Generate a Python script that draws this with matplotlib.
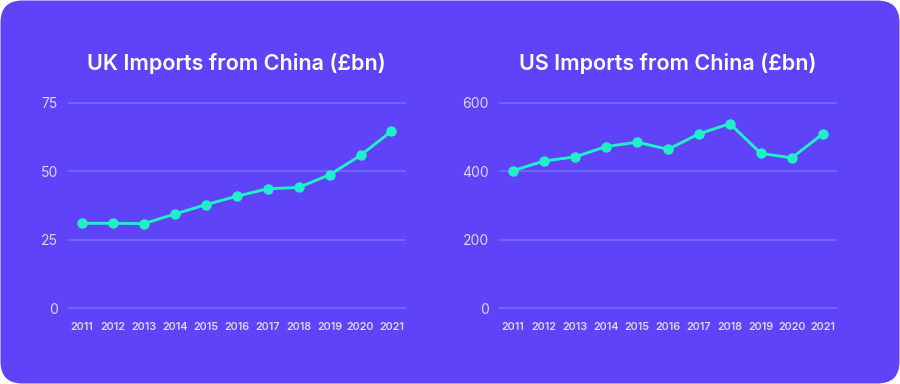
import matplotlib
matplotlib.use('Agg')
import matplotlib.pyplot as plt
from matplotlib.patches import FancyBboxPatch

years = [2011, 2012, 2013, 2014, 2015, 2016, 2017, 2018, 2019, 2020, 2021]
uk_imports = [31.0, 31.0, 30.9, 34.4, 37.8, 40.9, 43.6, 44.1, 48.7, 55.8, 64.6]
us_imports = [402, 430, 442, 472, 485, 464, 509, 539, 452, 439, 509]
uk_ticks = [0, 25, 50, 75]
us_ticks = [0, 200, 400, 600]

BG = '#5E43F8'
GRID = '#6F6CFB'
LINE = '#1FF0C8'
TICK = '#DCD6FF'

plt.rcParams['font.family'] = ['Inter', 'DejaVu Sans']

fig = plt.figure(figsize=(9, 3.84), dpi=100)
fig.patch.set_facecolor('white')

# rounded card behind both charts
bg = fig.add_axes([0, 0, 1, 1])
bg.set_xlim(0, 900)
bg.set_ylim(0, 384)
bg.axis('off')
bg.add_patch(FancyBboxPatch((0.5, 0.5), 899, 383, boxstyle='round,pad=0,rounding_size=22',
                            facecolor=BG, edgecolor='none'))


def draw(rect, values, ticks, title, title_x):
    ax = fig.add_axes(rect)
    ax.set_facecolor('none')
    x = list(range(len(years)))
    span = ticks[-1]
    ax.set_ylim(-span * 0.007, span * 1.007)
    ax.set_xlim(-0.47, len(years) - 1 + 0.47)
    ax.set_yticks(ticks)
    ax.set_xticks(x)
    ax.set_xticklabels([str(y) for y in years])
    for t in ticks:
        ax.axhline(t, color=GRID, linewidth=1.3, zorder=1)
    ax.plot(x, values, color=LINE, linewidth=2.1, marker='o', markersize=6.5,
            zorder=3, clip_on=False)
    for s in ax.spines.values():
        s.set_visible(False)
    ax.tick_params(axis='y', length=0, pad=7, labelsize=10, labelcolor=TICK)
    ax.tick_params(axis='x', length=0, pad=8.5, labelsize=7.8, labelcolor=TICK)
    for lab in ax.get_xticklabels():
        lab.set_fontweight('semibold')
    fig.text(title_x / 900, 1 - 64 / 384, title, color='white', fontsize=15.5,
             fontweight='semibold', ha='center', va='center')
    return ax


draw([67.7 / 900, 1 - 309.7 / 384, 338.3 / 900, 208.4 / 384], uk_imports, uk_ticks,
     'UK Imports from China (£bn)', 236)
draw([498.7 / 900, 1 - 309.7 / 384, 338.6 / 900, 208.4 / 384], us_imports, us_ticks,
     'US Imports from China (£bn)', 668)

fig.savefig('out.png', dpi=100, facecolor='white')
